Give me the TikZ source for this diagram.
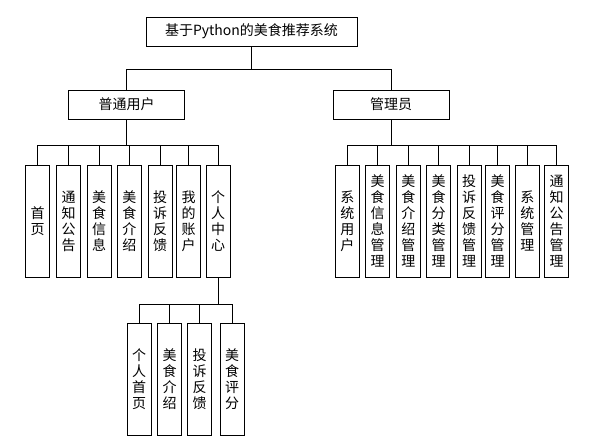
\documentclass[tikz,border=0pt]{standalone}
\usepackage{fontspec}
\setmainfont{Noto Sans CJK SC}
\begin{document}
\begin{tikzpicture}[x=1pt,y=-1pt,
  every node/.style={font=\fontsize{14}{16}\selectfont},
  hbox/.style={draw, line width=0.8pt, inner sep=0pt, minimum height=29pt, align=center},
  vbox/.style={draw, line width=0.8pt, inner sep=0pt, minimum width=24pt, minimum height=112pt, text width=16pt, align=center},
  link/.style={line width=0.8pt}]
\useasboundingbox[fill=white] (0,0) rectangle (595,442);
% root and level 1
\node[hbox, minimum width=211pt] (root) at (251.5,31.5) {基于Python的美食推荐系统};
\node[hbox, minimum width=116pt] (user) at (126.5,104.5) {普通用户};
\node[hbox, minimum width=116pt] (admin) at (391,104.5) {管理员};
% user children
\node[vbox] (u1) at (37.7,221) {首\\页};
\node[vbox] (u2) at (68.7,221) {通\\知\\公\\告};
\node[vbox] (u3) at (99,221) {美\\食\\信\\息};
\node[vbox] (u4) at (129.3,221) {美\\食\\介\\绍};
\node[vbox] (u5) at (160,221) {投\\诉\\反\\馈};
\node[vbox] (u6) at (188.7,221) {我\\的\\账\\户};
\node[vbox] (u7) at (218.2,221) {个\\人\\中\\心};
% admin children
\node[vbox] (a1) at (347.3,221) {系\\统\\用\\户};
\node[vbox] (a2) at (377.7,221) {美\\食\\信\\息\\管\\理};
\node[vbox] (a3) at (408.3,221) {美\\食\\介\\绍\\管\\理};
\node[vbox] (a4) at (438.7,221) {美\\食\\分\\类\\管\\理};
\node[vbox] (a5) at (469,221) {投\\诉\\反\\馈\\管\\理};
\node[vbox] (a6) at (497.7,221) {美\\食\\评\\分\\管\\理};
\node[vbox] (a7) at (527.3,221) {系\\统\\管\\理};
\node[vbox] (a8) at (556.7,221) {通\\知\\公\\告\\管\\理};
% personal center children
\node[vbox] (p1) at (139.2,379.5) {个\\人\\首\\页};
\node[vbox] (p2) at (169.5,379.5) {美\\食\\介\\绍};
\node[vbox] (p3) at (199.5,379.5) {投\\诉\\反\\馈};
\node[vbox] (p4) at (232.2,379.5) {美\\食\\评\\分};
% connectors
\foreach \c in {user,admin} \draw[link] (\c.north) -- ++(0,-20.7) -| (root.south);
\foreach \c in {u1,u2,u3,u4,u5,u6,u7} \draw[link] (\c.north) -- ++(0,-19) -| (user.south);
\foreach \c in {a1,a2,a3,a4,a5,a6,a7,a8} \draw[link] (\c.north) -- ++(0,-19) -| (admin.south);
\foreach \c in {p1,p2,p3,p4} \draw[link] (\c.north) -- ++(0,-19.2) -| (u7.south);
\end{tikzpicture}
\end{document}
